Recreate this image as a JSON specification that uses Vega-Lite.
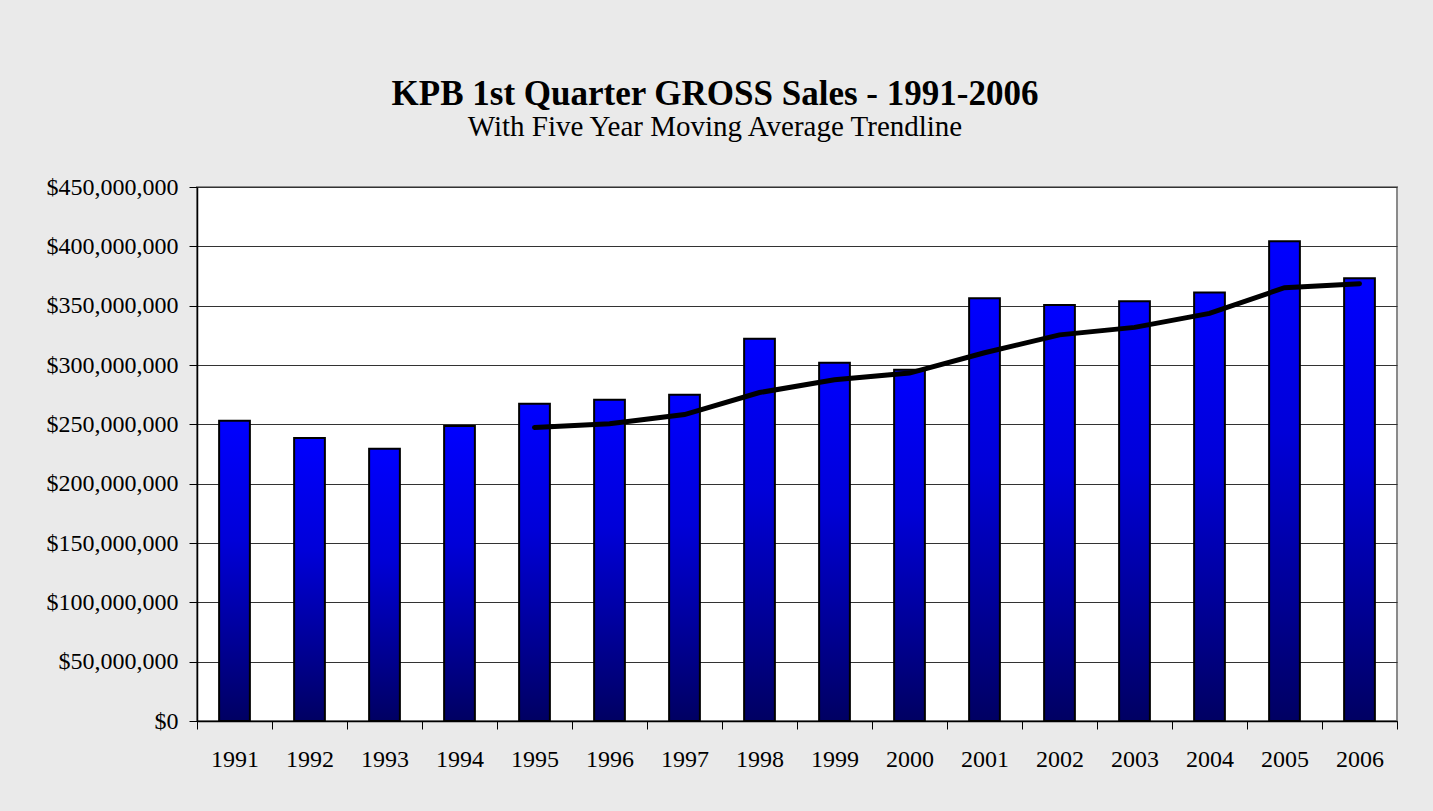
{
  "$schema": "https://vega.github.io/schema/vega-lite/v6.json",
  "width": 1200,
  "height": 534,
  "autosize": {"type": "none"},
  "padding": {"left": 197, "top": 187, "right": 36, "bottom": 90},
  "background": "#EAEAEA",
  "title": {
    "text": "KPB 1st Quarter GROSS Sales - 1991-2006",
    "subtitle": "With Five Year Moving Average Trendline",
    "anchor": "middle",
    "dx": -82,
    "offset": 33,
    "font": "Liberation Serif",
    "fontSize": 35,
    "fontWeight": "bold",
    "color": "#000000",
    "subtitleFont": "Liberation Serif",
    "subtitleFontSize": 29,
    "subtitleColor": "#000000",
    "subtitlePadding": 1
  },
  "data": {
    "values": [
      {"year": "1991", "sales": 253000000, "ma": null},
      {"year": "1992", "sales": 238500000, "ma": null},
      {"year": "1993", "sales": 229500000, "ma": null},
      {"year": "1994", "sales": 248600000, "ma": null},
      {"year": "1995", "sales": 267400000, "ma": 247400000},
      {"year": "1996", "sales": 270800000, "ma": 250500000},
      {"year": "1997", "sales": 275000000, "ma": 258200000},
      {"year": "1998", "sales": 322200000, "ma": 276800000},
      {"year": "1999", "sales": 302000000, "ma": 287500000},
      {"year": "2000", "sales": 296000000, "ma": 293200000},
      {"year": "2001", "sales": 356200000, "ma": 310300000},
      {"year": "2002", "sales": 350500000, "ma": 325400000},
      {"year": "2003", "sales": 353700000, "ma": 331700000},
      {"year": "2004", "sales": 361000000, "ma": 343500000},
      {"year": "2005", "sales": 404200000, "ma": 365100000},
      {"year": "2006", "sales": 373000000, "ma": 368500000}
    ]
  },
  "encoding": {
    "x": {
      "field": "year",
      "type": "ordinal",
      "scale": {"paddingInner": 0, "paddingOuter": 0},
      "axis": {
        "title": null,
        "labelAngle": 0,
        "tickBand": "extent",
        "tickSize": 8,
        "tickColor": "#000000",
        "tickWidth": 1,
        "domainColor": "#000000",
        "domainWidth": 1.5,
        "labelFont": "Liberation Serif",
        "labelFontSize": 24,
        "labelColor": "#000000",
        "labelPadding": 18,
        "grid": false
      }
    }
  },
  "layer": [
    {
      "mark": {
        "type": "bar",
        "width": {"band": 0.41},
        "stroke": "#000000",
        "strokeWidth": 2,
        "fill": {
          "gradient": "linear",
          "x1": 0, "y1": 0, "x2": 0, "y2": 1,
          "stops": [
            {"offset": 0, "color": "#0000FF"},
            {"offset": 0.4, "color": "#0000D8"},
            {"offset": 1, "color": "#000062"}
          ]
        }
      },
      "encoding": {
        "y": {
          "field": "sales",
          "type": "quantitative",
          "scale": {"domain": [0, 450000000], "nice": false},
          "axis": {
            "title": null,
            "values": [0, 50000000, 100000000, 150000000, 200000000, 250000000, 300000000, 350000000, 400000000, 450000000],
            "format": "$,.0f",
            "grid": true,
            "gridColor": "#333333",
            "gridWidth": 1,
            "gridOpacity": 1,
            "tickSize": 8,
            "tickColor": "#000000",
            "domainColor": "#000000",
            "domainWidth": 1.5,
            "labelFont": "Liberation Serif",
            "labelFontSize": 24,
            "labelColor": "#000000",
            "labelPadding": 11
          }
        }
      }
    },
    {
      "mark": {"type": "line", "color": "#000000", "strokeWidth": 5, "strokeCap": "round"},
      "encoding": {
        "y": {"field": "ma", "type": "quantitative"}
      }
    }
  ],
  "config": {
    "view": {"fill": "#FFFFFF", "stroke": "#8a8a8a", "strokeWidth": 2}
  }
}
